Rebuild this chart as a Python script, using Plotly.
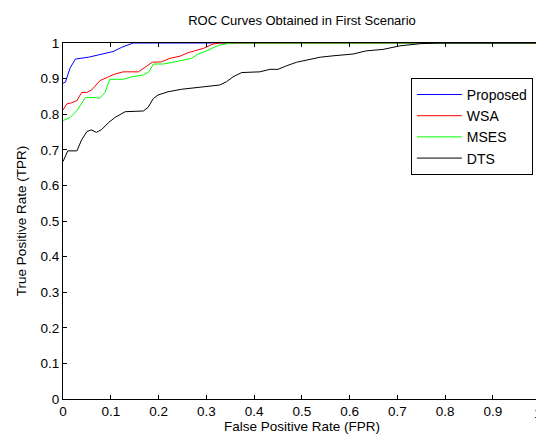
import plotly.graph_objects as go

# ROC data
fpr_proposed = [0, 0.005, 0.015, 0.026, 0.053, 0.081, 0.105, 0.123, 0.147, 1.0]
tpr_proposed = [0.887, 0.89, 0.93, 0.955, 0.96, 0.969, 0.976, 0.988, 1.0, 1.0]

fpr_wsa = [0, 0.008, 0.018, 0.029, 0.039, 0.05, 0.06, 0.077, 0.095, 0.109, 0.126, 0.158,
           0.172, 0.187, 0.206, 0.224, 0.245, 0.262, 0.276, 0.294, 0.314, 0.328, 1.0]
tpr_wsa = [0.812, 0.829, 0.832, 0.838, 0.861, 0.861, 0.868, 0.894, 0.905, 0.913, 0.919, 0.919,
           0.932, 0.946, 0.947, 0.957, 0.963, 0.973, 0.978, 0.985, 0.997, 1.0, 1.0]

fpr_mses = [0, 0.015, 0.029, 0.039, 0.047, 0.063, 0.077, 0.088, 0.098, 0.126, 0.144, 0.168,
            0.18, 0.189, 0.21, 0.234, 0.269, 0.283, 0.301, 0.318, 0.328, 0.353, 1.0]
tpr_mses = [0.782, 0.791, 0.81, 0.831, 0.847, 0.847, 0.845, 0.861, 0.898, 0.898, 0.905, 0.91,
            0.919, 0.941, 0.941, 0.947, 0.957, 0.969, 0.978, 0.989, 0.994, 1.0, 1.0]

fpr_dts = [0, 0.01, 0.029, 0.039, 0.05, 0.059, 0.07, 0.081, 0.095, 0.109, 0.13, 0.168, 0.178,
           0.189, 0.199, 0.22, 0.248, 0.276, 0.311, 0.328, 0.342, 0.356, 0.374, 0.412, 0.433,
           0.45, 0.468, 0.489, 0.517, 0.538, 0.565, 0.607, 0.635, 0.67, 0.705, 0.747, 0.785, 1.0]
tpr_dts = [0.667, 0.697, 0.697, 0.728, 0.751, 0.756, 0.749, 0.757, 0.776, 0.791, 0.807, 0.809, 0.819,
           0.844, 0.854, 0.863, 0.87, 0.874, 0.879, 0.882, 0.891, 0.905, 0.917, 0.919, 0.926,
           0.926, 0.936, 0.946, 0.954, 0.96, 0.964, 0.969, 0.978, 0.982, 0.992, 0.998, 1.0, 1.0]

tick_values = [0, 0.1, 0.2, 0.3, 0.4, 0.5, 0.6, 0.7, 0.8, 0.9, 1]
tick_labels = ["0", "0.1", "0.2", "0.3", "0.4", "0.5", "0.6", "0.7", "0.8", "0.9", "1"]

series = [
    ("Proposed", fpr_proposed, tpr_proposed, "#0000ff"),
    ("WSA", fpr_wsa, tpr_wsa, "#ff0000"),
    ("MSES", fpr_mses, tpr_mses, "#00ff00"),
    ("DTS", fpr_dts, tpr_dts, "#000000"),
]

fig = go.Figure()
for name, x, y, color in series:
    fig.add_trace(go.Scatter(x=x, y=y, name=name, mode="lines",
                             line=dict(color=color, width=1)))

tick_font = dict(family="Liberation Sans, Arial", size=13.5, color="black")
axis_style = dict(
    tickmode="array", tickvals=tick_values,
    ticks="inside", ticklen=4, tickcolor="black",
    showline=True, linecolor="black", linewidth=1, mirror="allticks",
    showgrid=False, zeroline=False, automargin=False, ticklabeloverflow="allow",
    tickfont=tick_font,
)

# the last x label sits on the page edge and gets dropped, so draw it as a note
x_labels = tick_labels[:-1] + [""]
fig.add_annotation(x=1, y=0, xref="paper", yref="paper", text=tick_labels[-1],
                   showarrow=False, xanchor="right", yanchor="top",
                   xshift=3, yshift=-5, font=tick_font)

# page body adds an 8px offset, so margins are shifted by that amount
fig.update_layout(
    width=536, height=434,
    margin=dict(l=55, r=3, t=35, b=43),
    paper_bgcolor="white", plot_bgcolor="white",
    font=dict(family="Liberation Sans, Arial", size=13, color="black"),
    title=dict(text="ROC Curves Obtained in First Scenario", x=0.5, xref="paper",
               xanchor="center", y=0.9705, yanchor="middle",
               font=dict(size=13, color="black")),
    legend=dict(x=0.983, xanchor="right", y=0.902, yanchor="top",
                bordercolor="black", borderwidth=1, bgcolor="white",
                font=dict(size=14), tracegroupgap=0, itemwidth=45),
    showlegend=True,
)
fig.update_xaxes(range=[0, 1.0005], ticktext=x_labels,
                 title=dict(text="False Positive Rate (FPR)", standoff=1,
                            font=dict(size=13.5)), **axis_style)
fig.update_yaxes(range=[0, 1], ticktext=tick_labels,
                 title=dict(text="True Positive Rate (TPR)", standoff=10,
                            font=dict(size=13.5)), **axis_style)

fig.write_html("out.html")
